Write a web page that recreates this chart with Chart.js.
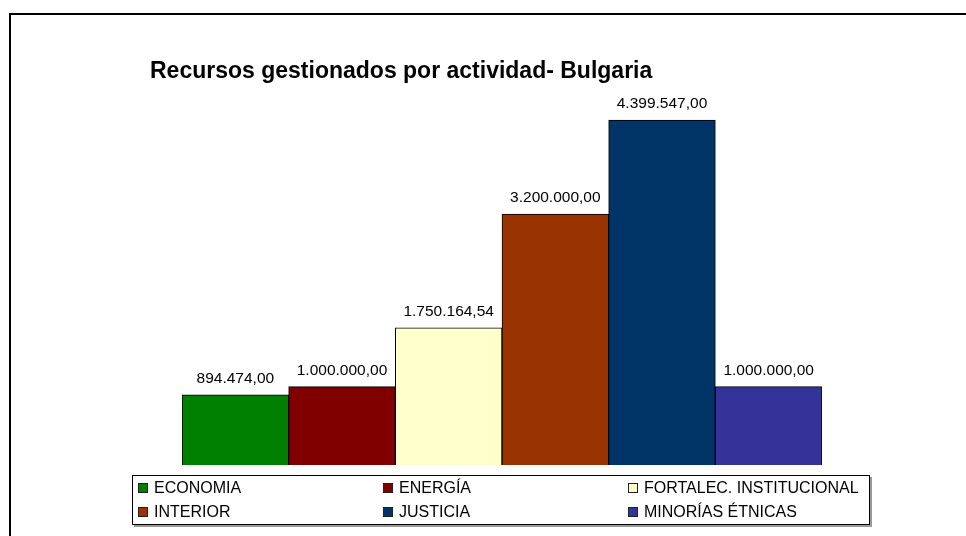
<!DOCTYPE html>
<html>
<head>
<meta charset="utf-8">
<script src="https://cdn.jsdelivr.net/npm/chart.js@4/dist/chart.umd.min.js"></script>
<style>
    html, body { margin: 0; padding: 0; background: #fff; overflow: hidden; }
    .cadre {
        position: absolute; left: 9px; top: 13px; width: 1000px; height: 600px;
        border: 2px solid #000; box-shadow: 1px 1px 0 #999;
    }
    .zone { position: absolute; left: 0; top: 0; width: 966px; height: 536px; }
</style>
</head>
<body>
<div class="cadre"></div>
<div class="zone"><canvas id="graphique" width="966" height="536"></canvas></div>
<script>
const titre = "Recursos gestionados por actividad- Bulgaria";
const categories = ["ECONOMIA", "ENERGÍA", "FORTALEC. INSTITUCIONAL", "INTERIOR", "JUSTICIA", "MINORÍAS ÉTNICAS"];
const valeurs = [894474.00, 1000000.00, 1750164.54, 3200000.00, 4399547.00, 1000000.00];
const couleurs = ["#008000", "#800000", "#FFFFCC", "#993300", "#003366", "#333399"];

// format 1.234.567,89
function formaterNombre(v) {
    const parties = v.toFixed(2).split(".");
    const entier = parties[0].replace(/\B(?=(\d{3})+(?!\d))/g, ".");
    return entier + "," + parties[1];
}

const pluginEtiquettes = {
    id: "etiquettes",
    afterDatasetsDraw(chart) {
        const ctx = chart.ctx;
        const meta = chart.getDatasetMeta(0);
        ctx.save();
        ctx.font = "15.5px 'Liberation Sans', Arial, sans-serif";
        ctx.fillStyle = "#000";
        ctx.textAlign = "center";
        ctx.textBaseline = "alphabetic";
        meta.data.forEach((barre, i) => {
            ctx.fillText(formaterNombre(valeurs[i]), barre.x, barre.y - 12);
        });

        // titre
        ctx.font = "bold 23px 'Liberation Sans', Arial, sans-serif";
        ctx.textAlign = "left";
        ctx.fillText(titre, 150, 78);

        // légende en 3 colonnes
        const gauche = 132, haut = 475, largeur = 738, hauteur = 50;
        ctx.fillStyle = "#999";
        ctx.fillRect(gauche + 2, haut + hauteur, largeur, 2);
        ctx.fillRect(gauche + largeur, haut + 2, 2, hauteur);
        ctx.fillStyle = "#fff";
        ctx.fillRect(gauche, haut, largeur, hauteur);
        ctx.strokeStyle = "#000";
        ctx.lineWidth = 1;
        ctx.strokeRect(gauche + 0.5, haut + 0.5, largeur - 1, hauteur - 1);

        ctx.font = "16px 'Liberation Sans', Arial, sans-serif";
        ctx.textBaseline = "middle";
        for (let i = 0; i < categories.length; i++) {
            const col = i % 3;
            const ligne = Math.floor(i / 3);
            const x = 138 + col * 245;
            const y = 488 + ligne * 24;
            ctx.fillStyle = couleurs[i];
            ctx.fillRect(x, y - 5, 10, 10);
            ctx.strokeStyle = "#222";
            ctx.strokeRect(x + 0.5, y - 4.5, 9, 9);
            ctx.fillStyle = "#000";
            ctx.fillText(categories[i], x + 16, y + 1);
        }
        ctx.restore();
    }
};

new Chart(document.querySelector("#graphique"), {
    type: "bar",
    data: {
        labels: categories,
        datasets: [{
            data: valeurs,
            backgroundColor: couleurs,
            borderColor: "#000",
            borderWidth: 1,
            barPercentage: 1,
            categoryPercentage: 1,
        }],
    },
    options: {
        responsive: false,
        animation: false,
        devicePixelRatio: 1,
        layout: { padding: { left: 182, right: 144, top: 73, bottom: 71 } },
        plugins: {
            legend: { display: false },
            title: { display: false },
            tooltip: { enabled: false },
        },
        scales: {
            x: { display: false },
            y: { display: false, min: 0, max: 5000000 },
        },
    },
    plugins: [pluginEtiquettes],
});
</script>
</body>
</html>
